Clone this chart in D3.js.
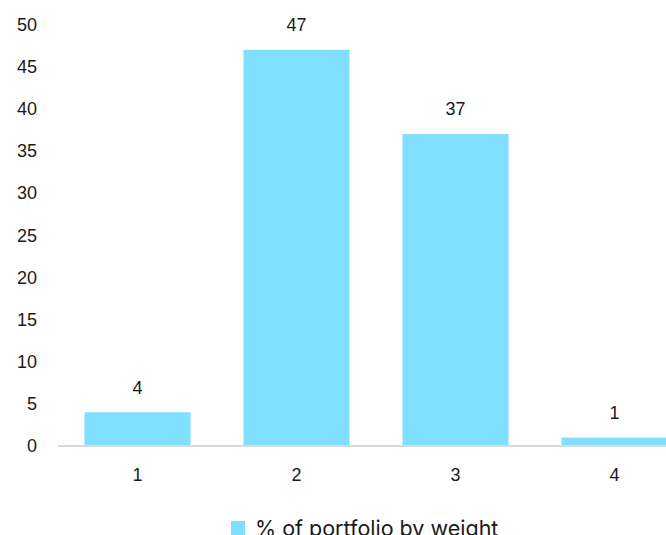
<!DOCTYPE html>
<html>
<head>
<meta charset="utf-8">
<script src="https://cdn.jsdelivr.net/npm/d3@7"></script>
<style>
  body { margin: 0; background: #fff; }
  svg { display: block; }
  text { fill: #1a1a1a; }
</style>
</head>
<body>
<main></main>
<script>
const categories = ["1", "2", "3", "4"]
const values = [4, 47, 37, 1]
const yTicks = [0, 5, 10, 15, 20, 25, 30, 35, 40, 45, 50]
const seriesName = "% of portfolio by weight"

const w = 666
const h = 535
const color = "#80deff"
const labelFont = "18px 'Liberation Sans', Arial, sans-serif"

const xScale = d3.scaleBand()
  .domain(categories)
  .range([58, 694])
  .paddingInner(0.333)
  .paddingOuter(0.1665)

const yScale = d3.scaleLinear()
  .domain([0, 50])
  .range([446, 24.5])

const svg = d3.select("main")
  .append("svg")
  .attr("width", w)
  .attr("height", h)

// y labels (no axis line)
svg.append("g")
  .selectAll("text")
  .data(yTicks)
  .enter()
  .append("text")
  .attr("x", 37)
  .attr("y", (d) => yScale(d))
  .attr("dy", "0.35em")
  .attr("text-anchor", "end")
  .style("font", labelFont)
  .text((d) => d)

// bars
svg.selectAll("rect.bar")
  .data(values)
  .enter()
  .append("rect")
  .attr("class", "bar")
  .attr("x", (d, i) => xScale(categories[i]))
  .attr("y", (d) => yScale(d))
  .attr("width", xScale.bandwidth())
  .attr("height", (d) => yScale(0) - yScale(d))
  .attr("fill", color)

// value labels
svg.selectAll("text.val")
  .data(values)
  .enter()
  .append("text")
  .attr("class", "val")
  .attr("x", (d, i) => xScale(categories[i]) + xScale.bandwidth() / 2)
  .attr("y", (d) => yScale(d) - 25)
  .attr("dy", "0.35em")
  .attr("text-anchor", "middle")
  .style("font", labelFont)
  .text((d) => d)

// x axis
const xAxis = d3.axisBottom(xScale).tickSize(0).tickPadding(22)
const gx = svg.append("g")
  .attr("transform", `translate(0, ${yScale(0)})`)
  .call(xAxis)
gx.select(".domain")
  .attr("d", `M58,0H${w}`)
  .attr("stroke", "#d9d9d9")
  .attr("stroke-width", 2)
gx.selectAll("text")
  .style("font", labelFont)
  .attr("fill", "#1a1a1a")

// legend
const legend = svg.append("g").attr("transform", "translate(231, 521)")
legend.append("rect")
  .attr("width", 14)
  .attr("height", 14)
  .attr("fill", color)
legend.append("text")
  .attr("x", 24)
  .attr("y", 15)
  .style("font", "21.5px Inter, sans-serif")
  .text(seriesName)
</script>
</body>
</html>
